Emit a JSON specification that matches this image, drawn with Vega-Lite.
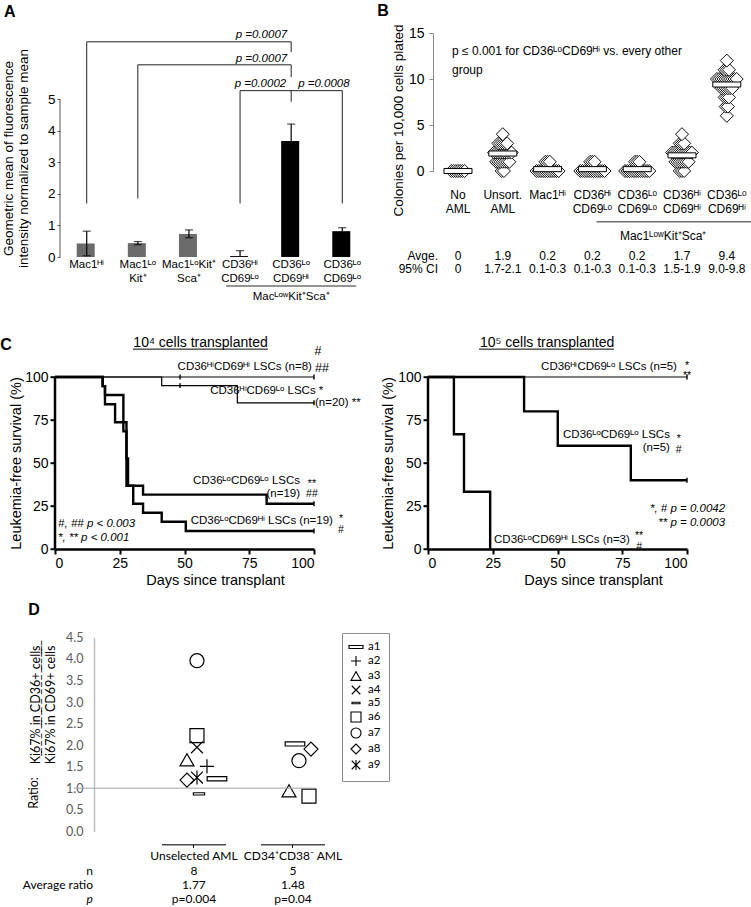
{
"$schema": "https://vega.github.io/schema/vega-lite/v6.json",
"padding": {"left": 0, "top": 2, "right": 0, "bottom": 0},
"background": "white",
"config": {
  "view": {"stroke": null},
  "font": "Liberation Sans",
  "axis": {"grid": false, "titleFontWeight": "normal", "labelColor": "black", "titleColor": "black"},
  "text": {"color": "black"}
},
"datasets": {
  "one": [{}],
  "aBars": [
    {"pop": "Mac1ᴴⁱ", "gate": "all", "mean": 0.43, "lo": 0.04, "hi": 0.82},
    {"pop": "Mac1ᴸᵒ|Kit⁺", "gate": "all", "mean": 0.44, "lo": 0.39, "hi": 0.49},
    {"pop": "Mac1ᴸᵒKit⁺|Sca⁺", "gate": "all", "mean": 0.73, "lo": 0.61, "hi": 0.86},
    {"pop": "CD36ᴴⁱ|CD69ᴸᵒ", "gate": "MacLowKitSca", "mean": 0.03, "lo": 0.03, "hi": 0.2},
    {"pop": "CD36ᴸᵒ|CD69ᴴⁱ", "gate": "MacLowKitSca", "mean": 3.68, "lo": 3.68, "hi": 4.22},
    {"pop": "CD36ᴸᵒ|CD69ᴸᵒ", "gate": "MacLowKitSca", "mean": 0.82, "lo": 0.82, "hi": 0.93}
  ],
  "aBracketH": [
    {"from": "Mac1ᴴⁱ", "to": "CD36ᴸᵒ|CD69ᴴⁱ", "h": 6.83},
    {"from": "Mac1ᴸᵒ|Kit⁺", "to": "CD36ᴸᵒ|CD69ᴴⁱ", "h": 6.1},
    {"from": "CD36ᴴⁱ|CD69ᴸᵒ", "to": "CD36ᴸᵒ|CD69ᴸᵒ", "h": 5.28}
  ],
  "aBracketV": [
    {"at": "Mac1ᴴⁱ", "y1": 1.7, "y2": 6.83},
    {"at": "CD36ᴸᵒ|CD69ᴴⁱ", "y1": 6.5, "y2": 6.83},
    {"at": "Mac1ᴸᵒ|Kit⁺", "y1": 1.86, "y2": 6.1},
    {"at": "CD36ᴸᵒ|CD69ᴴⁱ", "y1": 5.71, "y2": 6.1},
    {"at": "CD36ᴴⁱ|CD69ᴸᵒ", "y1": 1.7, "y2": 5.28},
    {"at": "CD36ᴸᵒ|CD69ᴸᵒ", "y1": 1.7, "y2": 5.28},
    {"at": "CD36ᴸᵒ|CD69ᴴⁱ", "y1": 4.93, "y2": 5.28}
  ],
  "bPoints": [
    {"g": "No|AML", "c": 0}, {"g": "No|AML", "c": 0}, {"g": "No|AML", "c": 0}, {"g": "No|AML", "c": 0}, {"g": "No|AML", "c": 0}, {"g": "No|AML", "c": 0}, {"g": "No|AML", "c": 0},
    {"g": "Unsort.|AML", "c": 0}, {"g": "Unsort.|AML", "c": 0},
    {"g": "Unsort.|AML", "c": 1}, {"g": "Unsort.|AML", "c": 1}, {"g": "Unsort.|AML", "c": 1}, {"g": "Unsort.|AML", "c": 1}, {"g": "Unsort.|AML", "c": 1}, {"g": "Unsort.|AML", "c": 1}, {"g": "Unsort.|AML", "c": 1},
    {"g": "Unsort.|AML", "c": 2}, {"g": "Unsort.|AML", "c": 2}, {"g": "Unsort.|AML", "c": 2}, {"g": "Unsort.|AML", "c": 2}, {"g": "Unsort.|AML", "c": 2}, {"g": "Unsort.|AML", "c": 2}, {"g": "Unsort.|AML", "c": 2}, {"g": "Unsort.|AML", "c": 2}, {"g": "Unsort.|AML", "c": 2},
    {"g": "Unsort.|AML", "c": 3}, {"g": "Unsort.|AML", "c": 3}, {"g": "Unsort.|AML", "c": 3}, {"g": "Unsort.|AML", "c": 3}, {"g": "Unsort.|AML", "c": 3},
    {"g": "Unsort.|AML", "c": 4},
    {"g": "Mac1ᴴⁱ", "c": 0}, {"g": "Mac1ᴴⁱ", "c": 0}, {"g": "Mac1ᴴⁱ", "c": 0}, {"g": "Mac1ᴴⁱ", "c": 0}, {"g": "Mac1ᴴⁱ", "c": 0}, {"g": "Mac1ᴴⁱ", "c": 0}, {"g": "Mac1ᴴⁱ", "c": 0}, {"g": "Mac1ᴴⁱ", "c": 0}, {"g": "Mac1ᴴⁱ", "c": 0}, {"g": "Mac1ᴴⁱ", "c": 0}, {"g": "Mac1ᴴⁱ", "c": 0},
    {"g": "Mac1ᴴⁱ", "c": 1}, {"g": "Mac1ᴴⁱ", "c": 1}, {"g": "Mac1ᴴⁱ", "c": 1},
    {"g": "CD36ᴴⁱ|CD69ᴸᵒ", "c": 0}, {"g": "CD36ᴴⁱ|CD69ᴸᵒ", "c": 0}, {"g": "CD36ᴴⁱ|CD69ᴸᵒ", "c": 0}, {"g": "CD36ᴴⁱ|CD69ᴸᵒ", "c": 0}, {"g": "CD36ᴴⁱ|CD69ᴸᵒ", "c": 0}, {"g": "CD36ᴴⁱ|CD69ᴸᵒ", "c": 0}, {"g": "CD36ᴴⁱ|CD69ᴸᵒ", "c": 0}, {"g": "CD36ᴴⁱ|CD69ᴸᵒ", "c": 0}, {"g": "CD36ᴴⁱ|CD69ᴸᵒ", "c": 0}, {"g": "CD36ᴴⁱ|CD69ᴸᵒ", "c": 0}, {"g": "CD36ᴴⁱ|CD69ᴸᵒ", "c": 0}, {"g": "CD36ᴴⁱ|CD69ᴸᵒ", "c": 0},
    {"g": "CD36ᴴⁱ|CD69ᴸᵒ", "c": 1}, {"g": "CD36ᴴⁱ|CD69ᴸᵒ", "c": 1}, {"g": "CD36ᴴⁱ|CD69ᴸᵒ", "c": 1},
    {"g": "CD36ᴸᵒ|CD69ᴸᵒ", "c": 0}, {"g": "CD36ᴸᵒ|CD69ᴸᵒ", "c": 0}, {"g": "CD36ᴸᵒ|CD69ᴸᵒ", "c": 0}, {"g": "CD36ᴸᵒ|CD69ᴸᵒ", "c": 0}, {"g": "CD36ᴸᵒ|CD69ᴸᵒ", "c": 0}, {"g": "CD36ᴸᵒ|CD69ᴸᵒ", "c": 0}, {"g": "CD36ᴸᵒ|CD69ᴸᵒ", "c": 0}, {"g": "CD36ᴸᵒ|CD69ᴸᵒ", "c": 0}, {"g": "CD36ᴸᵒ|CD69ᴸᵒ", "c": 0}, {"g": "CD36ᴸᵒ|CD69ᴸᵒ", "c": 0}, {"g": "CD36ᴸᵒ|CD69ᴸᵒ", "c": 0}, {"g": "CD36ᴸᵒ|CD69ᴸᵒ", "c": 0},
    {"g": "CD36ᴸᵒ|CD69ᴸᵒ", "c": 1}, {"g": "CD36ᴸᵒ|CD69ᴸᵒ", "c": 1}, {"g": "CD36ᴸᵒ|CD69ᴸᵒ", "c": 1},
    {"g": "CD36ᴴⁱ|CD69ᴴⁱ", "c": 0}, {"g": "CD36ᴴⁱ|CD69ᴴⁱ", "c": 0}, {"g": "CD36ᴴⁱ|CD69ᴴⁱ", "c": 0},
    {"g": "CD36ᴴⁱ|CD69ᴴⁱ", "c": 1}, {"g": "CD36ᴴⁱ|CD69ᴴⁱ", "c": 1}, {"g": "CD36ᴴⁱ|CD69ᴴⁱ", "c": 1}, {"g": "CD36ᴴⁱ|CD69ᴴⁱ", "c": 1}, {"g": "CD36ᴴⁱ|CD69ᴴⁱ", "c": 1}, {"g": "CD36ᴴⁱ|CD69ᴴⁱ", "c": 1}, {"g": "CD36ᴴⁱ|CD69ᴴⁱ", "c": 1},
    {"g": "CD36ᴴⁱ|CD69ᴴⁱ", "c": 2}, {"g": "CD36ᴴⁱ|CD69ᴴⁱ", "c": 2}, {"g": "CD36ᴴⁱ|CD69ᴴⁱ", "c": 2}, {"g": "CD36ᴴⁱ|CD69ᴴⁱ", "c": 2}, {"g": "CD36ᴴⁱ|CD69ᴴⁱ", "c": 2}, {"g": "CD36ᴴⁱ|CD69ᴴⁱ", "c": 2}, {"g": "CD36ᴴⁱ|CD69ᴴⁱ", "c": 2}, {"g": "CD36ᴴⁱ|CD69ᴴⁱ", "c": 2}, {"g": "CD36ᴴⁱ|CD69ᴴⁱ", "c": 2}, {"g": "CD36ᴴⁱ|CD69ᴴⁱ", "c": 2},
    {"g": "CD36ᴴⁱ|CD69ᴴⁱ", "c": 3}, {"g": "CD36ᴴⁱ|CD69ᴴⁱ", "c": 3}, {"g": "CD36ᴴⁱ|CD69ᴴⁱ", "c": 3},
    {"g": "CD36ᴴⁱ|CD69ᴴⁱ", "c": 4},
    {"g": "CD36ᴸᵒ|CD69ᴴⁱ", "c": 6},
    {"g": "CD36ᴸᵒ|CD69ᴴⁱ", "c": 7}, {"g": "CD36ᴸᵒ|CD69ᴴⁱ", "c": 7},
    {"g": "CD36ᴸᵒ|CD69ᴴⁱ", "c": 8}, {"g": "CD36ᴸᵒ|CD69ᴴⁱ", "c": 8}, {"g": "CD36ᴸᵒ|CD69ᴴⁱ", "c": 8},
    {"g": "CD36ᴸᵒ|CD69ᴴⁱ", "c": 9}, {"g": "CD36ᴸᵒ|CD69ᴴⁱ", "c": 9}, {"g": "CD36ᴸᵒ|CD69ᴴⁱ", "c": 9}, {"g": "CD36ᴸᵒ|CD69ᴴⁱ", "c": 9}, {"g": "CD36ᴸᵒ|CD69ᴴⁱ", "c": 9}, {"g": "CD36ᴸᵒ|CD69ᴴⁱ", "c": 9},
    {"g": "CD36ᴸᵒ|CD69ᴴⁱ", "c": 10}, {"g": "CD36ᴸᵒ|CD69ᴴⁱ", "c": 10}, {"g": "CD36ᴸᵒ|CD69ᴴⁱ", "c": 10}, {"g": "CD36ᴸᵒ|CD69ᴴⁱ", "c": 10}, {"g": "CD36ᴸᵒ|CD69ᴴⁱ", "c": 10}, {"g": "CD36ᴸᵒ|CD69ᴴⁱ", "c": 10}, {"g": "CD36ᴸᵒ|CD69ᴴⁱ", "c": 10}, {"g": "CD36ᴸᵒ|CD69ᴴⁱ", "c": 10}, {"g": "CD36ᴸᵒ|CD69ᴴⁱ", "c": 10}, {"g": "CD36ᴸᵒ|CD69ᴴⁱ", "c": 10},
    {"g": "CD36ᴸᵒ|CD69ᴴⁱ", "c": 11}, {"g": "CD36ᴸᵒ|CD69ᴴⁱ", "c": 11}, {"g": "CD36ᴸᵒ|CD69ᴴⁱ", "c": 11},
    {"g": "CD36ᴸᵒ|CD69ᴴⁱ", "c": 12}
  ],
  "bSummary": [
    {"g": "No|AML", "avg": 0, "ci": "0"},
    {"g": "Unsort.|AML", "avg": 1.9, "ci": "1.7-2.1"},
    {"g": "Mac1ᴴⁱ", "avg": 0.2, "ci": "0.1-0.3"},
    {"g": "CD36ᴴⁱ|CD69ᴸᵒ", "avg": 0.2, "ci": "0.1-0.3"},
    {"g": "CD36ᴸᵒ|CD69ᴸᵒ", "avg": 0.2, "ci": "0.1-0.3"},
    {"g": "CD36ᴴⁱ|CD69ᴴⁱ", "avg": 1.7, "ci": "1.5-1.9"},
    {"g": "CD36ᴸᵒ|CD69ᴴⁱ", "avg": 9.4, "ci": "9.0-9.8"}
  ],
  "cCurves": [
    {"panel": "1e4", "group": "HiHi", "cd36": "Hi", "day": 0, "surv": 100},
    {"panel": "1e4", "group": "HiHi", "cd36": "Hi", "day": 100, "surv": 100},
    {"panel": "1e4", "group": "HiLo", "cd36": "Hi", "day": 0, "surv": 100},
    {"panel": "1e4", "group": "HiLo", "cd36": "Hi", "day": 41.2, "surv": 95},
    {"panel": "1e4", "group": "HiLo", "cd36": "Hi", "day": 70.4, "surv": 85},
    {"panel": "1e4", "group": "HiLo", "cd36": "Hi", "day": 100, "surv": 85},
    {"panel": "1e4", "group": "LoLo", "cd36": "Lo", "day": 0, "surv": 100},
    {"panel": "1e4", "group": "LoLo", "cd36": "Lo", "day": 18.4, "surv": 94.7},
    {"panel": "1e4", "group": "LoLo", "cd36": "Lo", "day": 19.3, "surv": 89.5},
    {"panel": "1e4", "group": "LoLo", "cd36": "Lo", "day": 26.4, "surv": 73.7},
    {"panel": "1e4", "group": "LoLo", "cd36": "Lo", "day": 27.6, "surv": 52.6},
    {"panel": "1e4", "group": "LoLo", "cd36": "Lo", "day": 28.2, "surv": 36.8},
    {"panel": "1e4", "group": "LoLo", "cd36": "Lo", "day": 34, "surv": 31.6},
    {"panel": "1e4", "group": "LoLo", "cd36": "Lo", "day": 81.7, "surv": 26.3},
    {"panel": "1e4", "group": "LoLo", "cd36": "Lo", "day": 100, "surv": 26.3},
    {"panel": "1e4", "group": "LoHi", "cd36": "Lo", "day": 0, "surv": 100},
    {"panel": "1e4", "group": "LoHi", "cd36": "Lo", "day": 18.4, "surv": 94.7},
    {"panel": "1e4", "group": "LoHi", "cd36": "Lo", "day": 19.3, "surv": 84.2},
    {"panel": "1e4", "group": "LoHi", "cd36": "Lo", "day": 23.2, "surv": 73.7},
    {"panel": "1e4", "group": "LoHi", "cd36": "Lo", "day": 26.4, "surv": 68.4},
    {"panel": "1e4", "group": "LoHi", "cd36": "Lo", "day": 27.6, "surv": 36.8},
    {"panel": "1e4", "group": "LoHi", "cd36": "Lo", "day": 30.2, "surv": 26.3},
    {"panel": "1e4", "group": "LoHi", "cd36": "Lo", "day": 34, "surv": 21.1},
    {"panel": "1e4", "group": "LoHi", "cd36": "Lo", "day": 41.2, "surv": 15.8},
    {"panel": "1e4", "group": "LoHi", "cd36": "Lo", "day": 50.5, "surv": 10.5},
    {"panel": "1e4", "group": "LoHi", "cd36": "Lo", "day": 100, "surv": 10.5},
    {"panel": "1e5", "group": "HiLo", "cd36": "Hi", "day": 0, "surv": 100},
    {"panel": "1e5", "group": "HiLo", "cd36": "Hi", "day": 100, "surv": 100},
    {"panel": "1e5", "group": "LoLo", "cd36": "Lo", "day": 0, "surv": 100},
    {"panel": "1e5", "group": "LoLo", "cd36": "Lo", "day": 37.1, "surv": 80},
    {"panel": "1e5", "group": "LoLo", "cd36": "Lo", "day": 50.1, "surv": 60},
    {"panel": "1e5", "group": "LoLo", "cd36": "Lo", "day": 78.3, "surv": 40},
    {"panel": "1e5", "group": "LoLo", "cd36": "Lo", "day": 100, "surv": 40},
    {"panel": "1e5", "group": "LoHi", "cd36": "Lo", "day": 0, "surv": 100},
    {"panel": "1e5", "group": "LoHi", "cd36": "Lo", "day": 10, "surv": 66.7},
    {"panel": "1e5", "group": "LoHi", "cd36": "Lo", "day": 13.9, "surv": 33.3},
    {"panel": "1e5", "group": "LoHi", "cd36": "Lo", "day": 24, "surv": 0}
  ],
  "cCensor": [
    {"panel": "1e4", "group": "HiHi", "day": 48.3, "surv": 100},
    {"panel": "1e4", "group": "HiLo", "day": 48.3, "surv": 95},
    {"panel": "1e4", "group": "HiHi", "day": 100, "surv": 100},
    {"panel": "1e4", "group": "HiLo", "day": 100, "surv": 85},
    {"panel": "1e4", "group": "LoLo", "day": 100, "surv": 26.3},
    {"panel": "1e4", "group": "LoHi", "day": 100, "surv": 10.5},
    {"panel": "1e5", "group": "HiLo", "day": 100, "surv": 100},
    {"panel": "1e5", "group": "LoLo", "day": 100, "surv": 40}
  ],
  "dPoints": [
    {"group": "Unselected AML", "sample": "a1", "ratio": 1.22},
    {"group": "Unselected AML", "sample": "a2", "ratio": 1.51},
    {"group": "Unselected AML", "sample": "a3", "ratio": 1.66},
    {"group": "Unselected AML", "sample": "a4", "ratio": 1.95},
    {"group": "Unselected AML", "sample": "a5", "ratio": 0.87},
    {"group": "Unselected AML", "sample": "a6", "ratio": 2.22},
    {"group": "Unselected AML", "sample": "a7", "ratio": 3.96},
    {"group": "Unselected AML", "sample": "a8", "ratio": 1.19},
    {"group": "Unselected AML", "sample": "a9", "ratio": 1.25},
    {"group": "CD34⁺CD38⁻ AML", "sample": "a1", "ratio": 2.03},
    {"group": "CD34⁺CD38⁻ AML", "sample": "a3", "ratio": 0.94},
    {"group": "CD34⁺CD38⁻ AML", "sample": "a6", "ratio": 0.82},
    {"group": "CD34⁺CD38⁻ AML", "sample": "a7", "ratio": 1.64},
    {"group": "CD34⁺CD38⁻ AML", "sample": "a8", "ratio": 1.91}
  ],
  "dSummary": [
    {"group": "Unselected AML", "n": 8, "avg": 1.77, "p": "p=0.004"},
    {"group": "CD34⁺CD38⁻ AML", "n": 5, "avg": 1.48, "p": "p=0.04"}
  ]
},
"bounds": "flush",
"align": "each",
"columns": 2,
"spacing": {"row": 87.7, "column": 54},
"concat": [
  {
    "width": 319,
    "height": 224,
    "layer": [
      {
        "layer": [
          {
            "data": {"name": "aBars"},
            "mark": {"type": "bar"},
            "encoding": {
              "x": {"field": "pop", "type": "nominal", "sort": null,
                    "scale": {"domain": ["Mac1ᴴⁱ", "Mac1ᴸᵒ|Kit⁺", "Mac1ᴸᵒKit⁺|Sca⁺", "CD36ᴴⁱ|CD69ᴸᵒ", "CD36ᴸᵒ|CD69ᴴⁱ", "CD36ᴸᵒ|CD69ᴸᵒ"], "paddingInner": 0.609, "paddingOuter": 0.425},
                    "axis": {"title": null, "labelExpr": "split(datum.value, '|')", "labelAngle": 0, "labelFontSize": 11.5, "labelLineHeight": 14, "labelPadding": 1, "ticks": false, "tickSize": 0, "domain": false, "labelBaseline": "top"}},
              "y": {"field": "mean", "type": "quantitative",
                    "scale": {"domain": [0, 7.11], "nice": false},
                    "axis": {"values": [0, 1, 2, 3, 4, 5], "domain": false, "offset": -5, "tickSize": 3, "tickColor": "#555555", "labelFontSize": 13.5, "labelPadding": 2,
                             "title": ["Geometric mean of fluorescence", "intensity normalized to sample mean"], "titleFontSize": 13.5, "titleLineHeight": 15.5, "titleAngle": -90, "titleX": -52, "titleY": 125, "titleAlign": "center", "titleBaseline": "middle"}},
              "color": {"field": "gate", "type": "nominal", "scale": {"domain": ["all", "MacLowKitSca"], "range": ["#6b6b6b", "#000000"]}, "legend": null}
            }
          },
          {
            "data": {"name": "aBars"},
            "mark": {"type": "rule", "color": "black", "strokeWidth": 1.2},
            "encoding": {"x": {"field": "pop", "type": "nominal"}, "y": {"field": "lo", "type": "quantitative"}, "y2": {"field": "hi"}}
          },
          {
            "data": {"name": "aBars"},
            "mark": {"type": "tick", "orient": "horizontal", "size": 8, "thickness": 1.2, "color": "black"},
            "encoding": {"x": {"field": "pop", "type": "nominal"}, "y": {"field": "hi", "type": "quantitative"}}
          },
          {
            "data": {"name": "aBars"},
            "transform": [{"filter": "datum.lo < datum.mean"}],
            "mark": {"type": "tick", "orient": "horizontal", "size": 8, "thickness": 1.2, "color": "black"},
            "encoding": {"x": {"field": "pop", "type": "nominal"}, "y": {"field": "lo", "type": "quantitative"}}
          },
          {
            "data": {"name": "aBracketH"},
            "mark": {"type": "rule", "color": "#222222", "strokeWidth": 1},
            "encoding": {"x": {"field": "from", "type": "nominal"}, "x2": {"field": "to"}, "y": {"field": "h", "type": "quantitative"}}
          },
          {
            "data": {"name": "aBracketV"},
            "mark": {"type": "rule", "color": "#222222", "strokeWidth": 1},
            "encoding": {"x": {"field": "at", "type": "nominal"}, "y": {"field": "y1", "type": "quantitative"}, "y2": {"field": "y2"}}
          },
          {
            "data": {"name": "one"},
            "mark": {"type": "text", "align": "right", "baseline": "alphabetic", "fontSize": 11.5, "fontStyle": "italic", "dx": -4},
            "encoding": {"x": {"datum": "CD36ᴸᵒ|CD69ᴴⁱ", "type": "nominal"}, "y": {"datum": 6.95, "type": "quantitative"}, "text": {"value": "p =0.0007"}}
          },
          {
            "data": {"name": "one"},
            "mark": {"type": "text", "align": "right", "baseline": "alphabetic", "fontSize": 11.5, "fontStyle": "italic", "dx": -4},
            "encoding": {"x": {"datum": "CD36ᴸᵒ|CD69ᴴⁱ", "type": "nominal"}, "y": {"datum": 6.19, "type": "quantitative"}, "text": {"value": "p =0.0007"}}
          },
          {
            "data": {"name": "one"},
            "mark": {"type": "text", "align": "right", "baseline": "alphabetic", "fontSize": 11.5, "fontStyle": "italic", "dx": -5},
            "encoding": {"x": {"datum": "CD36ᴸᵒ|CD69ᴴⁱ", "type": "nominal"}, "y": {"datum": 5.4, "type": "quantitative"}, "text": {"value": "p =0.0002"}}
          },
          {
            "data": {"name": "one"},
            "mark": {"type": "text", "align": "left", "baseline": "alphabetic", "fontSize": 11.5, "fontStyle": "italic", "dx": 7},
            "encoding": {"x": {"datum": "CD36ᴸᵒ|CD69ᴴⁱ", "type": "nominal"}, "y": {"datum": 5.4, "type": "quantitative"}, "text": {"value": "p =0.0008"}}
          },
          {
            "data": {"name": "one"},
            "mark": {"type": "tick", "orient": "horizontal", "size": 130, "thickness": 1.6, "color": "#333333"},
            "encoding": {"x": {"datum": "CD36ᴸᵒ|CD69ᴴⁱ", "type": "nominal"}, "y": {"datum": -0.92, "type": "quantitative"}}
          },
          {
            "data": {"name": "one"},
            "mark": {"type": "text", "align": "center", "baseline": "middle", "fontSize": 11.5},
            "encoding": {"x": {"datum": "CD36ᴸᵒ|CD69ᴴⁱ", "type": "nominal"}, "y": {"datum": -1.27, "type": "quantitative"}, "text": {"value": "MacᴸᵒʷKit⁺Sca⁺"}}
          },
          {
            "data": {"name": "one"},
            "mark": {"type": "text", "align": "center", "baseline": "middle", "fontSize": 16, "fontWeight": "bold", "dx": -77},
            "encoding": {"x": {"datum": "Mac1ᴴⁱ", "type": "nominal"}, "y": {"datum": 7.78, "type": "quantitative"}, "text": {"value": "A"}}
          }
        ]
      },
      {
        "data": {"name": "one"},
        "mark": {"type": "rule", "color": "#555555", "strokeWidth": 1},
        "encoding": {
          "x": {"datum": 5, "type": "quantitative", "scale": {"domain": [0, 319]}, "axis": null},
          "y": {"datum": 0, "type": "quantitative"},
          "y2": {"datum": 5}
        }
      }
    ],
    "resolve": {"scale": {"x": "independent"}}
  },
  {
    "width": 321.2,
    "height": 138,
    "layer": [
      {
        "data": {"name": "bPoints"},
        "transform": [
          {"window": [{"op": "row_number", "as": "rn"}], "groupby": ["g", "c"]},
          {"joinaggregate": [{"op": "count", "as": "n"}], "groupby": ["g", "c"]},
          {"calculate": "datum.rn - (datum.n + 1) / 2", "as": "off"}
        ],
        "mark": {"type": "point", "shape": "diamond", "size": 169, "filled": true, "fill": "white", "stroke": "black", "strokeWidth": 0.95, "opacity": 1},
        "encoding": {
          "x": {"field": "g", "type": "nominal", "sort": null,
                "scale": {"domain": ["No|AML", "Unsort.|AML", "Mac1ᴴⁱ", "CD36ᴴⁱ|CD69ᴸᵒ", "CD36ᴸᵒ|CD69ᴸᵒ", "CD36ᴴⁱ|CD69ᴴⁱ", "CD36ᴸᵒ|CD69ᴴⁱ"], "paddingInner": 0, "paddingOuter": 0.0848, "align": 1},
                "axis": {"title": null, "labelExpr": "split(datum.value, '|')", "labelAngle": 0, "labelFontSize": 12, "labelLineHeight": 14, "ticks": false, "tickSize": 0, "domain": false, "labelPadding": 18, "labelBaseline": "top"}},
          "xOffset": {"field": "off", "type": "quantitative", "scale": {"domain": [-10, 10], "range": [0.4, 44.4]}},
          "y": {"field": "c", "type": "quantitative", "scale": {"domain": [0, 15], "nice": false},
                "axis": {"values": [0, 5, 10, 15], "offset": -5, "domainColor": "#8a8a8a", "tickColor": "#8a8a8a", "tickSize": 4, "labelFontSize": 14, "labelPadding": 5,
                         "title": "Colonies per 10,000 cells plated", "titleFontSize": 13.5, "titleX": -35, "titleY": 87, "titleAngle": -90, "titleAlign": "center", "titleBaseline": "middle"}}
        }
      },
      {
        "data": {"name": "bSummary"},
        "mark": {"type": "point", "shape": "M-1,-0.18L1,-0.18L1,0.18L-1,0.18Z", "size": 784, "filled": true, "fill": "white", "stroke": "black", "strokeWidth": 1, "opacity": 1},
        "encoding": {"x": {"field": "g", "type": "nominal"}, "y": {"field": "avg", "type": "quantitative"}}
      },
      {
        "data": {"name": "bSummary"},
        "mark": {"type": "text", "fontSize": 12, "baseline": "middle", "align": "center"},
        "encoding": {"x": {"field": "g", "type": "nominal"}, "y": {"datum": -9.2, "type": "quantitative"}, "text": {"field": "avg", "type": "quantitative", "format": ".1~f"}}
      },
      {
        "data": {"name": "bSummary"},
        "mark": {"type": "text", "fontSize": 12, "baseline": "middle", "align": "center"},
        "encoding": {"x": {"field": "g", "type": "nominal"}, "y": {"datum": -10.6, "type": "quantitative"}, "text": {"field": "ci", "type": "nominal"}}
      },
      {
        "data": {"name": "one"},
        "mark": {"type": "text", "fontSize": 12, "baseline": "middle", "align": "right", "dx": -20},
        "encoding": {"x": {"datum": "No|AML", "type": "nominal"}, "y": {"datum": -9.2, "type": "quantitative"}, "text": {"value": "Avge."}}
      },
      {
        "data": {"name": "one"},
        "mark": {"type": "text", "fontSize": 12, "baseline": "middle", "align": "right", "dx": -20},
        "encoding": {"x": {"datum": "No|AML", "type": "nominal"}, "y": {"datum": -10.6, "type": "quantitative"}, "text": {"value": "95% CI"}}
      },
      {
        "data": {"name": "one"},
        "mark": {"type": "tick", "orient": "horizontal", "size": 171, "thickness": 1.6, "color": "#333333"},
        "encoding": {"x": {"datum": "CD36ᴴⁱ|CD69ᴴⁱ", "type": "nominal", "bandPosition": 0}, "y": {"datum": -5.51, "type": "quantitative"}}
      },
      {
        "data": {"name": "one"},
        "mark": {"type": "text", "fontSize": 12, "baseline": "middle", "align": "center"},
        "encoding": {"x": {"datum": "CD36ᴴⁱ|CD69ᴴⁱ", "type": "nominal", "bandPosition": 0.08}, "y": {"datum": -7.07, "type": "quantitative"}, "text": {"value": "Mac1ᴸᵒʷKit⁺Sca⁺"}}
      },
      {
        "data": {"name": "one"},
        "mark": {"type": "text", "fontSize": 12, "baseline": "middle", "align": "left", "dx": -6, "lineHeight": 19},
        "encoding": {"x": {"datum": "No|AML", "type": "nominal"}, "y": {"datum": 12.99, "type": "quantitative"}, "text": {"value": ["p ≤ 0.001 for CD36ᴸᵒCD69ᴴⁱ vs. every other", "group"]}}
      },
      {
        "data": {"name": "one"},
        "mark": {"type": "text", "align": "center", "baseline": "middle", "fontSize": 16, "fontWeight": "bold", "dx": -75},
        "encoding": {"x": {"datum": "No|AML", "type": "nominal"}, "y": {"datum": 17.4, "type": "quantitative"}, "text": {"value": "B"}}
      }
    ]
  },
  {
    "width": 259,
    "height": 204.3,
    "layer": [
      {
        "data": {"name": "cCurves"},
        "transform": [{"filter": "datum.panel == '1e4'"}],
        "mark": {"type": "line", "interpolate": "step-after", "color": "black", "strokeJoin": "miter"},
        "encoding": {
          "x": {"field": "day", "type": "quantitative", "scale": {"domain": [0, 100], "nice": false},
                "axis": {"values": [0, 25, 50, 75, 100], "domainWidth": 2.5, "domainColor": "black", "tickWidth": 2, "tickSize": 5, "tickColor": "black", "labelFontSize": 14, "labelPadding": 2,
                         "title": "Days since transplant", "titleFontSize": 14.5, "titleX": 160, "titleY": 31, "titleBaseline": "middle", "titleAlign": "center"}},
          "y": {"field": "surv", "type": "quantitative", "scale": {"domain": [0, 118.78], "nice": false},
                "axis": {"values": [0, 25, 50, 75, 100], "domain": false, "tickWidth": 2, "tickSize": 5, "tickColor": "black", "labelFontSize": 14, "labelPadding": 2,
                         "title": "Leukemia-free survival (%)", "titleFontSize": 14.5, "titleX": -39, "titleY": 118.3, "titleAngle": -90, "titleAlign": "center", "titleBaseline": "middle"}},
          "detail": {"field": "group", "type": "nominal"},
          "strokeWidth": {"field": "cd36", "type": "nominal", "scale": {"domain": ["Hi", "Lo"], "range": [1.2, 2.4]}, "legend": null}
        }
      },
      {"data": {"name": "one"}, "mark": {"type": "rule", "color": "black", "strokeWidth": 2.5}, "encoding": {"x": {"datum": 0, "type": "quantitative"}, "y": {"datum": 0, "type": "quantitative"}, "y2": {"datum": 100}}},
      {
        "data": {"name": "cCensor"},
        "transform": [{"filter": "datum.panel == '1e4'"}],
        "mark": {"type": "tick", "orient": "vertical", "size": 5, "thickness": 2, "color": "black"},
        "encoding": {"x": {"field": "day", "type": "quantitative"}, "y": {"field": "surv", "type": "quantitative"}}
      },
      {"data": {"name": "one"}, "mark": {"type": "rule", "color": "black", "strokeWidth": 1}, "encoding": {"x": {"datum": 30.1, "type": "quantitative"}, "x2": {"datum": 82.2}, "y": {"datum": 116.2, "type": "quantitative"}}},
      {"data": {"name": "one"}, "mark": {"type": "text", "align": "center", "baseline": "alphabetic", "fontSize": 14}, "encoding": {"x": {"datum": 56.2, "type": "quantitative"}, "y": {"datum": 117.7, "type": "quantitative"}, "text": {"value": "10⁴ cells transplanted"}}},
      {"data": {"name": "one"}, "mark": {"type": "text", "align": "center", "baseline": "middle", "fontSize": 16, "fontWeight": "bold"}, "encoding": {"x": {"datum": -18.9, "type": "quantitative"}, "y": {"datum": 118.6, "type": "quantitative"}, "text": {"value": "C"}}},
      {"data": {"name": "one"}, "mark": {"type": "text", "align": "right", "baseline": "middle", "fontSize": 11.5}, "encoding": {"x": {"datum": 99.2, "type": "quantitative"}, "y": {"datum": 105.8, "type": "quantitative"}, "text": {"value": "CD36ᴴⁱCD69ᴴⁱ LSCs (n=8)"}}},
      {"data": {"name": "one"}, "mark": {"type": "text", "align": "center", "baseline": "middle", "fontSize": 12.5}, "encoding": {"x": {"datum": 101.5, "type": "quantitative"}, "y": {"datum": 115.1, "type": "quantitative"}, "text": {"value": "#"}}},
      {"data": {"name": "one"}, "mark": {"type": "text", "align": "center", "baseline": "middle", "fontSize": 12.5}, "encoding": {"x": {"datum": 103.1, "type": "quantitative"}, "y": {"datum": 105.2, "type": "quantitative"}, "text": {"value": "##"}}},
      {"data": {"name": "one"}, "mark": {"type": "text", "align": "right", "baseline": "middle", "fontSize": 11.5}, "encoding": {"x": {"datum": 103.6, "type": "quantitative"}, "y": {"datum": 91.9, "type": "quantitative"}, "text": {"value": "CD36ᴴⁱCD69ᴸᵒ LSCs  *"}}},
      {"data": {"name": "one"}, "mark": {"type": "text", "align": "left", "baseline": "middle", "fontSize": 11.5}, "encoding": {"x": {"datum": 100.4, "type": "quantitative"}, "y": {"datum": 84.8, "type": "quantitative"}, "text": {"value": "(n=20)  **"}}},
      {"data": {"name": "one"}, "mark": {"type": "text", "align": "right", "baseline": "middle", "fontSize": 11.5}, "encoding": {"x": {"datum": 94.6, "type": "quantitative"}, "y": {"datum": 39.5, "type": "quantitative"}, "text": {"value": "CD36ᴸᵒCD69ᴸᵒ LSCs"}}},
      {"data": {"name": "one"}, "mark": {"type": "text", "align": "center", "baseline": "middle", "fontSize": 10.5, "lineHeight": 10.6}, "encoding": {"x": {"datum": 99.2, "type": "quantitative"}, "y": {"datum": 38.0, "type": "quantitative"}, "text": {"value": ["**", "##"]}}},
      {"data": {"name": "one"}, "mark": {"type": "text", "align": "right", "baseline": "middle", "fontSize": 11.5}, "encoding": {"x": {"datum": 94.6, "type": "quantitative"}, "y": {"datum": 32.0, "type": "quantitative"}, "text": {"value": "(n=19)"}}},
      {"data": {"name": "one"}, "mark": {"type": "text", "align": "right", "baseline": "middle", "fontSize": 11.5}, "encoding": {"x": {"datum": 107.3, "type": "quantitative"}, "y": {"datum": 16.3, "type": "quantitative"}, "text": {"value": "CD36ᴸᵒCD69ᴴⁱ LSCs (n=19)"}}},
      {"data": {"name": "one"}, "mark": {"type": "text", "align": "center", "baseline": "middle", "fontSize": 10.5, "lineHeight": 10.6}, "encoding": {"x": {"datum": 110.4, "type": "quantitative"}, "y": {"datum": 17.2, "type": "quantitative"}, "text": {"value": ["*", "#"]}}},
      {"data": {"name": "one"}, "mark": {"type": "text", "align": "left", "baseline": "middle", "fontSize": 11.5, "fontStyle": "italic"}, "encoding": {"x": {"datum": 1.2, "type": "quantitative"}, "y": {"datum": 14.5, "type": "quantitative"}, "text": {"value": "#, ## p < 0.003"}}},
      {"data": {"name": "one"}, "mark": {"type": "text", "align": "left", "baseline": "middle", "fontSize": 11.5, "fontStyle": "italic"}, "encoding": {"x": {"datum": 1.2, "type": "quantitative"}, "y": {"datum": 6.4, "type": "quantitative"}, "text": {"value": "*, ** p < 0.001"}}}
    ]
  },
  {
    "width": 259,
    "height": 204.3,
    "layer": [
      {
        "data": {"name": "cCurves"},
        "transform": [{"filter": "datum.panel == '1e5'"}],
        "mark": {"type": "line", "interpolate": "step-after", "color": "black", "strokeJoin": "miter"},
        "encoding": {
          "x": {"field": "day", "type": "quantitative", "scale": {"domain": [0, 100], "nice": false},
                "axis": {"values": [0, 25, 50, 75, 100], "domainWidth": 2.5, "domainColor": "black", "tickWidth": 2, "tickSize": 5, "tickColor": "black", "labelFontSize": 14, "labelPadding": 2,
                         "title": "Days since transplant", "titleFontSize": 14.5, "titleX": 165, "titleY": 31, "titleBaseline": "middle", "titleAlign": "center"}},
          "y": {"field": "surv", "type": "quantitative", "scale": {"domain": [0, 118.78], "nice": false},
                "axis": {"values": [0, 25, 50, 75, 100], "domain": false, "tickWidth": 2, "tickSize": 5, "tickColor": "black", "labelFontSize": 14, "labelPadding": 2,
                         "title": "Leukemia-free survival (%)", "titleFontSize": 14.5, "titleX": -40, "titleY": 118.3, "titleAngle": -90, "titleAlign": "center", "titleBaseline": "middle"}},
          "detail": {"field": "group", "type": "nominal"},
          "strokeWidth": {"field": "cd36", "type": "nominal", "scale": {"domain": ["Hi", "Lo"], "range": [1.2, 2.4]}, "legend": null}
        }
      },
      {"data": {"name": "one"}, "mark": {"type": "rule", "color": "black", "strokeWidth": 2.5}, "encoding": {"x": {"datum": 0, "type": "quantitative"}, "y": {"datum": 0, "type": "quantitative"}, "y2": {"datum": 100}}},
      {
        "data": {"name": "cCensor"},
        "transform": [{"filter": "datum.panel == '1e5'"}],
        "mark": {"type": "tick", "orient": "vertical", "size": 5, "thickness": 2, "color": "black"},
        "encoding": {"x": {"field": "day", "type": "quantitative"}, "y": {"field": "surv", "type": "quantitative"}}
      },
      {"data": {"name": "one"}, "mark": {"type": "rule", "color": "black", "strokeWidth": 1}, "encoding": {"x": {"datum": 19.7, "type": "quantitative"}, "x2": {"datum": 71.8}, "y": {"datum": 116.2, "type": "quantitative"}}},
      {"data": {"name": "one"}, "mark": {"type": "text", "align": "center", "baseline": "alphabetic", "fontSize": 14}, "encoding": {"x": {"datum": 46, "type": "quantitative"}, "y": {"datum": 117.7, "type": "quantitative"}, "text": {"value": "10⁵ cells transplanted"}}},
      {"data": {"name": "one"}, "mark": {"type": "text", "align": "right", "baseline": "middle", "fontSize": 11.5}, "encoding": {"x": {"datum": 96.1, "type": "quantitative"}, "y": {"datum": 105.8, "type": "quantitative"}, "text": {"value": "CD36ᴴⁱCD69ᴸᵒ LSCs (n=5)"}}},
      {"data": {"name": "one"}, "mark": {"type": "text", "align": "center", "baseline": "middle", "fontSize": 10.5, "lineHeight": 10.6}, "encoding": {"x": {"datum": 100, "type": "quantitative"}, "y": {"datum": 106.6, "type": "quantitative"}, "text": {"value": ["*", "**"]}}},
      {"data": {"name": "one"}, "mark": {"type": "text", "align": "right", "baseline": "middle", "fontSize": 11.5}, "encoding": {"x": {"datum": 93.4, "type": "quantitative"}, "y": {"datum": 66.3, "type": "quantitative"}, "text": {"value": "CD36ᴸᵒCD69ᴸᵒ LSCs"}}},
      {"data": {"name": "one"}, "mark": {"type": "text", "align": "right", "baseline": "middle", "fontSize": 11.5}, "encoding": {"x": {"datum": 93.4, "type": "quantitative"}, "y": {"datum": 58.7, "type": "quantitative"}, "text": {"value": "(n=5)"}}},
      {"data": {"name": "one"}, "mark": {"type": "text", "align": "center", "baseline": "middle", "fontSize": 10.5, "lineHeight": 10.6}, "encoding": {"x": {"datum": 96.8, "type": "quantitative"}, "y": {"datum": 64.0, "type": "quantitative"}, "text": {"value": ["*", "#"]}}},
      {"data": {"name": "one"}, "mark": {"type": "text", "align": "right", "baseline": "middle", "fontSize": 11.5, "fontStyle": "italic"}, "encoding": {"x": {"datum": 114.7, "type": "quantitative"}, "y": {"datum": 23.3, "type": "quantitative"}, "text": {"value": "*, # p = 0.0042"}}},
      {"data": {"name": "one"}, "mark": {"type": "text", "align": "right", "baseline": "middle", "fontSize": 11.5, "fontStyle": "italic"}, "encoding": {"x": {"datum": 114.7, "type": "quantitative"}, "y": {"datum": 15.3, "type": "quantitative"}, "text": {"value": "** p = 0.0003"}}},
      {"data": {"name": "one"}, "mark": {"type": "text", "align": "left", "baseline": "middle", "fontSize": 11.5}, "encoding": {"x": {"datum": 25.5, "type": "quantitative"}, "y": {"datum": 5.2, "type": "quantitative"}, "text": {"value": "CD36ᴸᵒCD69ᴴⁱ LSCs (n=3)"}}},
      {"data": {"name": "one"}, "mark": {"type": "text", "align": "center", "baseline": "middle", "fontSize": 10.5, "lineHeight": 10.6}, "encoding": {"x": {"datum": 81.5, "type": "quantitative"}, "y": {"datum": 7.6, "type": "quantitative"}, "text": {"value": ["**", "#"]}}}
    ]
  },
  {
    "width": 280,
    "height": 194,
    "layer": [
      {
        "data": {"name": "dPoints"},
        "encoding": {
          "x": {"field": "group", "type": "nominal", "sort": null,
                "scale": {"domain": ["Unselected AML", "CD34⁺CD38⁻ AML"], "paddingInner": 0.35, "paddingOuter": 0.589, "align": 0.9156},
                "axis": {"title": null, "labelAngle": 0, "labelFontSize": 12, "labelFont": "Lato", "domain": false, "ticks": true, "tickSize": 3, "tickColor": "black", "offset": 13, "labelPadding": 3}},
          "y": {"field": "ratio", "type": "quantitative", "scale": {"domain": [0, 4.5], "nice": false},
                "axis": {"values": [0, 0.5, 1, 1.5, 2, 2.5, 3, 3.5, 4, 4.5], "format": ".1f", "offset": -39, "domainColor": "#bfbfbf", "domainWidth": 1.5, "ticks": false, "labelFontSize": 12.5, "labelColor": "#595959", "labelFont": "Lato", "labelPadding": 11,
                         "title": ["K\u0332i\u03326\u03327\u0332%\u0332 \u0332i\u0332n\u0332 \u0332C\u0332D\u03323\u03326\u0332+\u0332 \u0332c\u0332e\u0332l\u0332l\u0332s\u0332", "Ki67% in CD69+ cells"], "titleFont": "Lato", "titleFontSize": 12.5, "titleLineHeight": 15.3, "titleX": -59, "titleY": 67, "titleAngle": -90, "titleAlign": "center", "titleBaseline": "middle"}},
          "shape": {"field": "sample", "type": "nominal",
                    "scale": {"domain": ["a1", "a2", "a3", "a4", "a5", "a6", "a7", "a8", "a9"],
                              "range": ["M-1.4,-0.3L1.4,-0.3L1.4,0.3L-1.4,0.3Z", "M-1,0L1,0M0,-1L0,1", "triangle-up", "M-0.85,-0.85L0.85,0.85M-0.85,0.85L0.85,-0.85", "M-0.8,-0.16L0.8,-0.16L0.8,0.16L-0.8,0.16Z", "square", "circle", "diamond", "M-0.85,-0.85L0.85,0.85M-0.85,0.85L0.85,-0.85M0,-1L0,1"]},
                    "legend": {"orient": "none", "legendX": 287, "legendY": 600, "title": null, "strokeColor": "#8c8c8c", "padding": 8, "symbolSize": 100, "labelFontSize": 11.5, "labelFont": "Lato", "rowPadding": 0, "symbolStrokeColor": "black", "symbolStrokeWidth": 1.1, "labelOffset": 6}}
        },
        "layer": [
          {"transform": [{"filter": "datum.group == 'Unselected AML' && (datum.sample == 'a3' || datum.sample == 'a8')"}], "mark": {"type": "point", "filled": false, "color": "black", "strokeWidth": 1.2, "size": 196, "opacity": 1, "xOffset": -7}},
          {"transform": [{"filter": "datum.group == 'Unselected AML' && (datum.sample == 'a4' || datum.sample == 'a6' || datum.sample == 'a7' || datum.sample == 'a9')"}], "mark": {"type": "point", "filled": false, "color": "black", "strokeWidth": 1.2, "size": 196, "opacity": 1, "xOffset": 3}},
          {"transform": [{"filter": "datum.group == 'Unselected AML' && datum.sample == 'a5'"}], "mark": {"type": "point", "filled": false, "color": "black", "strokeWidth": 1.2, "size": 196, "opacity": 1, "xOffset": 5}},
          {"transform": [{"filter": "datum.group == 'Unselected AML' && datum.sample == 'a2'"}], "mark": {"type": "point", "filled": false, "color": "black", "strokeWidth": 1.2, "size": 196, "opacity": 1, "xOffset": 13}},
          {"transform": [{"filter": "datum.group == 'Unselected AML' && datum.sample == 'a1'"}], "mark": {"type": "point", "filled": false, "color": "black", "strokeWidth": 1.2, "size": 196, "opacity": 1, "xOffset": 23}},
          {"transform": [{"filter": "datum.group != 'Unselected AML' && datum.sample == 'a1'"}], "mark": {"type": "point", "filled": false, "color": "black", "strokeWidth": 1.2, "size": 196, "opacity": 1, "xOffset": 2}},
          {"transform": [{"filter": "datum.group != 'Unselected AML' && datum.sample == 'a3'"}], "mark": {"type": "point", "filled": false, "color": "black", "strokeWidth": 1.2, "size": 196, "opacity": 1, "xOffset": -4}},
          {"transform": [{"filter": "datum.group != 'Unselected AML' && datum.sample == 'a6'"}], "mark": {"type": "point", "filled": false, "color": "black", "strokeWidth": 1.2, "size": 196, "opacity": 1, "xOffset": 16}},
          {"transform": [{"filter": "datum.group != 'Unselected AML' && datum.sample == 'a7'"}], "mark": {"type": "point", "filled": false, "color": "black", "strokeWidth": 1.2, "size": 196, "opacity": 1, "xOffset": 6}},
          {"transform": [{"filter": "datum.group != 'Unselected AML' && datum.sample == 'a8'"}], "mark": {"type": "point", "filled": false, "color": "black", "strokeWidth": 1.2, "size": 196, "opacity": 1, "xOffset": 18}}
        ]
      },
      {
        "data": {"name": "one"},
        "mark": {"type": "tick", "orient": "horizontal", "size": 241, "thickness": 1.5, "color": "#a6a6a6"},
        "encoding": {"x": {"datum": "Unselected AML", "type": "nominal", "bandPosition": 0.819},
                     "y": {"datum": 1, "type": "quantitative",
                           "axis": {"orient": "left", "offset": -39, "labels": false, "ticks": false, "domain": false, "title": "Ratio:", "titleFont": "Lato", "titleFontSize": 12.5, "titleX": -61, "titleY": 155, "titleAngle": -90, "titleAlign": "center", "titleBaseline": "middle"}}}
      },
      {
        "data": {"name": "dSummary"},
        "mark": {"type": "tick", "orient": "horizontal", "size": 64, "thickness": 1.3, "color": "black"},
        "encoding": {"x": {"field": "group", "type": "nominal"}, "y": {"datum": -0.31, "type": "quantitative", "axis": null}}
      },
      {
        "data": {"name": "dSummary"},
        "mark": {"type": "text", "font": "Lato", "fontSize": 12, "baseline": "middle", "align": "center"},
        "encoding": {"x": {"field": "group", "type": "nominal"}, "y": {"datum": -0.912, "type": "quantitative", "axis": null}, "text": {"field": "n", "type": "quantitative"}}
      },
      {
        "data": {"name": "dSummary"},
        "mark": {"type": "text", "font": "Lato", "fontSize": 12, "baseline": "middle", "align": "center"},
        "encoding": {"x": {"field": "group", "type": "nominal"}, "y": {"datum": -1.237, "type": "quantitative", "axis": null}, "text": {"field": "avg", "type": "quantitative", "format": ".2f"}}
      },
      {
        "data": {"name": "dSummary"},
        "mark": {"type": "text", "font": "Lato", "fontSize": 12, "baseline": "middle", "align": "center"},
        "encoding": {"x": {"field": "group", "type": "nominal"}, "y": {"datum": -1.561, "type": "quantitative", "axis": null}, "text": {"field": "p", "type": "nominal"}}
      },
      {
        "data": {"name": "one"},
        "mark": {"type": "text", "font": "Lato", "fontSize": 12, "baseline": "middle", "align": "right", "dx": -101},
        "encoding": {"x": {"datum": "Unselected AML", "type": "nominal"}, "y": {"datum": -0.912, "type": "quantitative", "axis": null}, "text": {"value": "n"}}
      },
      {
        "data": {"name": "one"},
        "mark": {"type": "text", "font": "Lato", "fontSize": 12, "baseline": "middle", "align": "right", "dx": -101},
        "encoding": {"x": {"datum": "Unselected AML", "type": "nominal"}, "y": {"datum": -1.237, "type": "quantitative", "axis": null}, "text": {"value": "Average ratio"}}
      },
      {
        "data": {"name": "one"},
        "mark": {"type": "text", "font": "Lato", "fontSize": 12, "fontStyle": "italic", "baseline": "middle", "align": "right", "dx": -101},
        "encoding": {"x": {"datum": "Unselected AML", "type": "nominal"}, "y": {"datum": -1.561, "type": "quantitative", "axis": null}, "text": {"value": "p"}}
      },
      {
        "data": {"name": "one"},
        "mark": {"type": "text", "fontSize": 16, "fontWeight": "bold", "baseline": "middle", "align": "center", "dx": -160},
        "encoding": {"x": {"datum": "Unselected AML", "type": "nominal"}, "y": {"datum": 5.14, "type": "quantitative", "axis": null}, "text": {"value": "D"}}
      }
    ],
    "resolve": {"axis": {"y": "independent"}}
  }
]
}
